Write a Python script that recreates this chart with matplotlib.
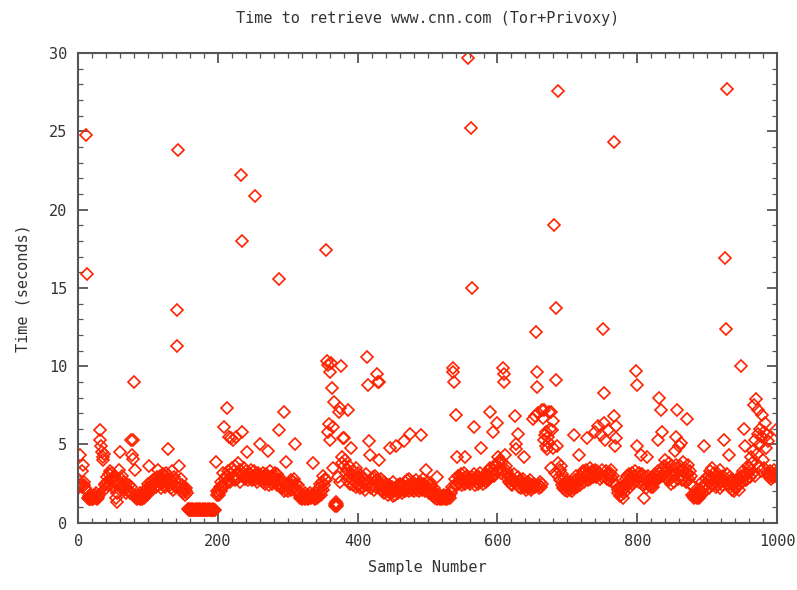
import numpy as np
import matplotlib
matplotlib.use("Agg")
import matplotlib.pyplot as plt
from matplotlib.ticker import MultipleLocator

# retrieval times (seconds), one value per sample in blocks of 20
t000 = [2.3, 4.3, 2.4, 2.5, 3.3, 2.3, 3.7, 2.4, 2.6, 2.2, 24.8, 2.1, 15.9, 1.6, 1.5, 1.7, 1.5, 1.6, 1.8, 1.5]
t020 = [1.6, 1.5, 1.7, 1.8, 1.6, 1.9, 1.5, 1.7, 1.6, 1.8, 5.9, 5.3, 4.9, 4.5, 4.2, 4.0, 4.4, 2.4, 2.5, 2.2]
t040 = [2.6, 2.9, 2.4, 3.1, 2.7, 3.3, 2.5, 2.8, 3.2, 2.3, 2.9, 3.0, 2.6, 1.6, 1.3, 1.9, 2.7, 3.4, 2.5, 4.5]
t060 = [2.8, 2.2, 3.0, 2.4, 2.1, 2.6, 2.3, 1.9, 2.5, 2.2, 2.0, 2.1, 2.4, 1.9, 2.3, 5.3, 4.3, 5.3, 4.1, 9.0]
t080 = [3.4, 1.7, 1.6, 1.5, 1.8, 1.6, 1.7, 1.5, 1.9, 1.6, 1.5, 1.7, 1.8, 1.6, 2.0, 1.7, 1.9, 2.2, 1.8, 2.5]
t100 = [3.6, 2.0, 2.3, 2.6, 2.1, 2.4, 2.7, 2.2, 2.5, 2.8, 2.3, 2.6, 2.9, 3.4, 2.4, 2.7, 3.0, 2.5, 2.2, 2.8]
t120 = [2.6, 3.1, 2.4, 2.9, 2.3, 3.2, 2.7, 4.7, 2.5, 3.0, 2.4, 2.8, 2.2, 3.3, 2.6, 2.1, 2.9, 2.4, 2.7, 2.3]
t140 = [11.3, 13.6, 23.8, 3.6, 2.5, 2.2, 2.8, 2.0, 2.4, 1.9, 2.3, 2.1, 1.8, 2.2, 2.0, 1.9, 0.9, 0.8, 0.9, 0.8]
t160 = [0.8, 0.9, 0.8, 0.8, 0.9, 0.8, 0.8, 0.9, 0.8, 0.8, 0.8, 0.9, 0.8, 0.8, 0.9, 0.8, 0.8, 0.8, 0.9, 0.8]
t180 = [0.8, 0.9, 0.8, 0.8, 0.8, 0.9, 0.8, 0.8, 0.9, 0.8, 0.8, 0.8, 0.9, 0.8, 0.8, 0.8, 3.9, 1.8, 2.0, 1.9]
t200 = [2.1, 1.8, 2.3, 2.0, 2.6, 2.2, 3.2, 2.4, 6.1, 2.8, 3.0, 2.5, 7.3, 3.3, 2.7, 5.5, 3.1, 2.6, 5.4, 3.5]
t220 = [2.9, 5.3, 3.3, 2.7, 3.6, 5.5, 3.0, 2.8, 3.8, 3.2, 2.6, 3.4, 22.2, 18.0, 5.8, 3.1, 2.9, 3.5, 2.8, 3.3]
t240 = [3.0, 4.5, 2.7, 3.2, 2.9, 3.1, 2.8, 3.4, 2.7, 3.0, 2.9, 3.3, 20.9, 2.8, 3.1, 2.6, 2.9, 3.2, 2.8, 5.0]
t260 = [3.0, 2.7, 2.9, 3.2, 2.6, 3.0, 2.8, 2.5, 3.1, 2.7, 4.6, 2.9, 2.4, 2.8, 3.3, 2.6, 3.0, 2.5, 2.9, 2.7]
t280 = [3.2, 2.6, 2.9, 2.4, 3.1, 2.7, 5.9, 15.6, 2.5, 2.8, 2.2, 2.6, 2.3, 7.1, 2.0, 2.5, 3.9, 2.1, 2.4, 2.2]
t300 = [2.0, 2.5, 2.3, 2.7, 2.1, 2.4, 2.6, 2.2, 2.8, 2.3, 5.0, 2.5, 2.1, 2.4, 2.0, 1.8, 1.6, 1.9, 1.7, 1.5]
t320 = [1.7, 1.6, 1.8, 1.5, 1.9, 1.6, 1.7, 1.8, 1.5, 1.6, 1.7, 1.9, 1.6, 1.8, 1.7, 3.8, 1.6, 1.8, 1.5, 1.7]
t340 = [1.9, 1.6, 1.8, 2.2, 1.7, 2.5, 2.0, 1.8, 2.6, 2.1, 3.0, 2.4, 2.8, 17.4, 2.7, 10.3, 10.1, 5.8, 6.3, 5.3]
t360 = [9.6, 10.2, 8.6, 6.1, 3.5, 7.7, 1.2, 1.1, 1.3, 1.2, 1.1, 2.9, 7.1, 7.3, 2.6, 10.0, 4.2, 3.8, 5.4, 3.6]
t380 = [5.4, 4.0, 3.2, 2.7, 3.4, 7.2, 2.9, 3.6, 2.5, 3.1, 4.8, 2.8, 3.3, 2.4, 3.0, 2.6, 3.5, 2.3, 2.9, 2.5]
t400 = [3.2, 2.4, 2.8, 2.2, 3.0, 2.6, 2.3, 2.9, 2.5, 2.1, 2.7, 3.1, 2.4, 10.6, 8.8, 5.2, 2.6, 4.3, 2.2, 2.8]
t420 = [2.4, 2.9, 2.1, 2.6, 3.0, 2.3, 2.7, 9.5, 9.0, 4.0, 9.0, 2.5, 2.2, 2.8, 2.0, 2.4, 2.6, 1.9, 2.3, 2.1]
t440 = [2.5, 2.0, 2.2, 1.8, 2.4, 4.8, 2.1, 1.9, 2.3, 1.7, 2.6, 2.0, 2.2, 1.8, 4.9, 2.1, 2.4, 1.9, 2.3, 2.0]
t460 = [2.5, 2.2, 1.9, 2.4, 2.1, 5.2, 2.6, 2.0, 2.3, 2.7, 2.1, 2.4, 2.0, 2.8, 5.7, 2.2, 2.5, 2.1, 2.6, 2.3]
t480 = [2.0, 2.4, 2.2, 2.7, 2.1, 2.5, 2.3, 2.0, 2.6, 5.6, 2.4, 2.1, 2.8, 2.2, 2.5, 2.0, 2.3, 3.4, 2.1, 2.6]
t500 = [2.2, 1.9, 2.4, 2.0, 2.3, 1.8, 2.1, 1.7, 2.2, 1.9, 1.6, 1.8, 1.5, 2.9, 1.7, 1.6, 1.8, 1.5, 1.7, 1.6]
t520 = [1.5, 1.7, 1.6, 1.8, 1.5, 1.6, 1.7, 1.5, 1.6, 1.8, 1.7, 1.6, 2.0, 1.9, 2.3, 9.9, 9.6, 9.0, 2.8, 2.4]
t540 = [6.9, 4.2, 2.6, 3.0, 2.5, 2.9, 2.7, 3.1, 2.4, 2.8, 2.6, 3.2, 2.5, 4.2, 2.9, 2.7, 3.0, 29.7, 2.6, 2.8]
t560 = [2.5, 25.2, 2.9, 15.0, 2.7, 3.1, 6.1, 2.4, 2.8, 2.6, 3.0, 2.5, 2.9, 2.7, 3.2, 2.6, 4.8, 2.8, 2.5, 3.0]
t580 = [2.7, 2.9, 2.6, 3.1, 2.8, 3.3, 2.7, 3.0, 3.5, 7.1, 2.9, 3.2, 5.8, 3.4, 3.0, 3.7, 3.1, 3.6, 6.4, 3.3]
t600 = [4.2, 3.8, 3.5, 4.0, 3.2, 3.9, 3.4, 9.9, 9.5, 9.0, 4.3, 3.6, 3.1, 3.3, 2.8, 3.0, 2.6, 2.9, 2.5, 2.7]
t620 = [2.4, 2.8, 2.6, 3.1, 6.8, 4.7, 5.0, 2.5, 5.7, 2.9, 2.3, 2.7, 2.5, 2.2, 2.6, 2.4, 2.8, 4.2, 2.3, 2.5]
t640 = [2.1, 2.4, 2.6, 2.2, 2.5, 2.3, 2.7, 2.1, 2.4, 2.2, 6.6, 2.5, 6.8, 2.3, 12.2, 9.6, 8.7, 7.0, 2.4, 2.2]
t660 = [2.6, 2.3, 7.2, 2.5, 6.7, 5.3, 7.2, 5.6, 4.9, 5.8, 4.7, 5.5, 7.1, 5.1, 6.0, 3.5, 7.1, 5.9, 6.5, 4.8]
t680 = [19.0, 3.2, 9.1, 13.7, 4.9, 27.6, 3.8, 2.9, 3.4, 2.7, 3.6, 2.4, 3.1, 2.2, 2.8, 2.5, 2.1, 2.3, 2.6, 2.0]
t700 = [2.4, 2.2, 2.6, 2.1, 2.5, 2.3, 2.0, 2.4, 5.6, 2.2, 2.7, 2.5, 3.0, 2.3, 2.8, 2.6, 4.3, 2.4, 2.9, 2.7]
t720 = [3.1, 2.8, 3.3, 2.6, 3.0, 3.4, 2.9, 5.4, 3.2, 2.7, 3.1, 3.5, 2.8, 3.0, 3.3, 2.9, 3.2, 3.0, 5.8, 3.4]
t740 = [2.9, 3.3, 3.0, 6.2, 3.2, 2.8, 3.1, 5.6, 3.4, 2.9, 12.4, 8.3, 6.4, 5.3, 3.3, 2.8, 3.1, 5.9, 3.0, 2.7]
t760 = [3.2, 2.9, 3.4, 2.6, 3.0, 24.3, 6.8, 4.9, 5.4, 6.2, 2.4, 2.1, 1.9, 2.2, 1.7, 2.0, 1.8, 2.3, 1.6, 2.1]
t780 = [1.9, 2.5, 2.2, 2.8, 2.4, 3.0, 2.6, 3.1, 2.7, 2.3, 2.9, 3.2, 2.5, 2.8, 3.0, 2.6, 3.3, 9.7, 8.8, 4.9]
t800 = [2.9, 3.2, 2.6, 3.0, 4.3, 2.7, 3.1, 2.4, 2.8, 1.6, 2.5, 2.9, 2.2, 4.2, 2.6, 3.0, 2.4, 2.8, 2.3, 2.7]
t820 = [2.5, 2.9, 2.3, 2.7, 3.1, 2.6, 3.0, 2.8, 3.3, 5.3, 8.0, 2.9, 3.2, 7.2, 3.4, 5.8, 3.0, 3.6, 3.1, 4.0]
t840 = [3.3, 2.8, 3.5, 3.0, 3.8, 2.7, 3.2, 2.5, 3.6, 2.9, 3.4, 2.6, 3.1, 4.6, 5.5, 3.7, 7.2, 2.8, 3.3, 4.9]
t860 = [3.6, 3.0, 5.1, 2.7, 3.4, 3.9, 2.9, 3.5, 3.2, 2.6, 6.6, 3.1, 3.7, 2.8, 3.3, 2.5, 3.0, 2.4, 1.8, 1.7]
t880 = [1.6, 1.8, 1.7, 1.9, 1.6, 1.8, 1.7, 1.6, 1.9, 1.7, 1.8, 2.3, 2.6, 1.9, 2.2, 4.9, 2.5, 2.8, 2.1, 2.4]
t900 = [3.0, 2.2, 2.7, 3.3, 2.5, 2.9, 3.5, 2.4, 2.8, 3.2, 2.6, 3.0, 2.3, 2.7, 3.1, 2.5, 2.9, 2.2, 3.4, 2.6]
t920 = [2.4, 2.8, 3.0, 5.3, 2.6, 16.9, 12.4, 27.7, 3.1, 2.5, 4.3, 2.9, 2.3, 2.7, 2.1, 2.6, 2.4, 2.0, 2.5, 2.2]
t940 = [2.6, 2.3, 2.8, 2.4, 2.1, 2.7, 2.5, 10.0, 3.0, 2.6, 3.3, 2.9, 6.0, 4.9, 2.7, 3.2, 2.8, 3.6, 3.1, 3.5]
t960 = [2.9, 3.4, 4.2, 3.8, 3.2, 4.6, 7.5, 3.0, 5.3, 7.9, 4.4, 5.7, 7.2, 3.6, 5.0, 6.0, 3.3, 6.9, 5.5, 4.0]
t980 = [5.8, 3.5, 6.4, 4.8, 5.6, 3.2, 5.2, 2.9, 3.1, 3.3, 2.8, 3.0, 3.2, 2.9, 3.1, 3.4, 3.0, 5.9, 3.2, 2.9]

times = (t000 + t020 + t040 + t060 + t080 + t100 + t120 + t140 + t160 + t180 +
         t200 + t220 + t240 + t260 + t280 + t300 + t320 + t340 + t360 + t380 +
         t400 + t420 + t440 + t460 + t480 + t500 + t520 + t540 + t560 + t580 +
         t600 + t620 + t640 + t660 + t680 + t700 + t720 + t740 + t760 + t780 +
         t800 + t820 + t840 + t860 + t880 + t900 + t920 + t940 + t960 + t980)
samples = np.arange(1, len(times) + 1)

mono = "DejaVu Sans Mono"
txt = "#333333"

fig = plt.figure(figsize=(7.97, 5.90), dpi=100)
ax = fig.add_axes([0.098, 0.114, 0.877, 0.796])

ax.plot(samples, times, linestyle="none", marker="D", ms=6,
        mfc="none", mec="#ff2200", mew=1.2)

ax.set_xlim(0, 1000)
ax.set_ylim(0, 30)
ax.xaxis.set_major_locator(MultipleLocator(200))
ax.xaxis.set_minor_locator(MultipleLocator(20))
ax.yaxis.set_major_locator(MultipleLocator(5))
ax.yaxis.set_minor_locator(MultipleLocator(1))
ax.tick_params(which="both", direction="in", top=True, right=True,
               color="#555555", labelcolor=txt)
ax.tick_params(which="major", length=7, width=1.3, pad=8)
ax.tick_params(which="minor", length=3.5, width=0.9)
for lab in ax.get_xticklabels() + ax.get_yticklabels():
    lab.set_fontfamily(mono)
    lab.set_fontsize(11)
for s in ax.spines.values():
    s.set_color("#555555")
    s.set_linewidth(1.5)

ax.set_title("Time to retrieve www.cnn.com (Tor+Privoxy)", family=mono,
             fontsize=11, color=txt, pad=22)
ax.set_xlabel("Sample Number", family=mono, fontsize=11, color=txt, labelpad=8)
ax.set_ylabel("Time (seconds)", family=mono, fontsize=11, color=txt, labelpad=13)

fig.savefig("out.png", dpi=100)
